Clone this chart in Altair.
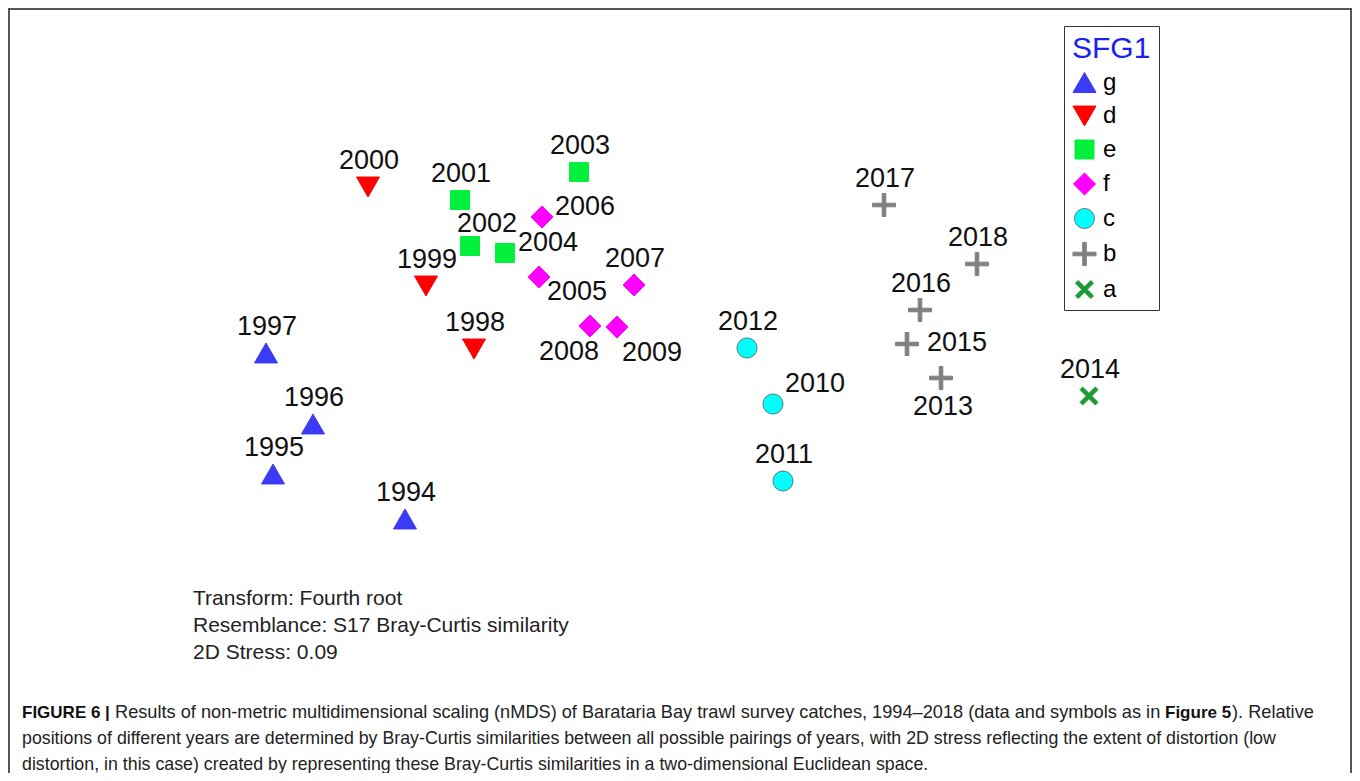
import altair as alt
import pandas as pd

# ---------------- data ----------------
years = list(range(1994, 2019))
groups = ["g", "g", "g", "g", "d", "d", "d", "e", "e", "e", "e", "f", "f", "f", "f", "f",
          "c", "c", "c", "b", "a", "b", "b", "b", "b"]
mds1 = [405, 273, 313, 266, 474, 426, 368, 460, 470, 579, 505, 539, 542, 634, 590, 617,
        773, 783, 747, 941, 1089, 907, 920, 884, 977]
mds2 = [519, 474, 424, 353, 349, 286, 187, 200, 246, 172, 253, 277, 217, 285, 326, 327,
        404, 481, 348, 378, 396, 344, 310, 205, 264]
label_side = ["N", "N", "N", "N", "N", "N", "N", "N", "NNE", "N", "ENE", "ESE", "ENE", "N", "SW", "SE",
              "NE", "N", "N", "S", "N", "E", "N", "N", "N"]

group_order = ["g", "d", "e", "f", "c", "b", "a"]
group_fill = ["#3b3bf6", "#ff0000", "#00f03c", "#ff00ff", "#00ffff", "#808080", "#1e9a34"]
group_stroke = ["#3b3bf6", "#ff0000", "#00f03c", "#ff00ff", "#557a7c", "#808080", "#1e9a34"]

notes = ["Transform: Fourth root",
         "Resemblance: S17 Bray-Curtis similarity",
         "2D Stress: 0.09"]

caption_segments = [
    (0, "FIGURE 6 |", True),
    (0, "Results of non-metric multidimensional scaling (nMDS) of Barataria Bay trawl survey catches, 1994\u20132018 (data and symbols as in", False),
    (0, "Figure 5", True),
    (0, "). Relative", False),
    (1, "positions of different years are determined by Bray-Curtis similarities between all possible pairings of years, with 2D stress reflecting the extent of distortion (low", False),
    (2, "distortion, in this case) created by representing these Bray-Curtis similarities in a two-dimensional Euclidean space.", False),
]

# ---------------- layout / styling ----------------
FONT = "Liberation Sans"
W, H = 1344, 765

# symbol paths (unit box, rendered with size 576 -> 12 px per unit)
a, w = 0.75, 0.22
x_path = (f"M{-a},{-a + w}L{-a + w},{-a}L0,{-w}L{a - w},{-a}L{a},{-a + w}L{w},0L{a},{a - w}"
          f"L{a - w},{a}L0,{w}L{-a + w},{a}L{-a},{a - w}L{-w},0Z")
t = 0.15
p = 0.96
plus_path = (f"M{-p},{-t}L{-t},{-t}L{-t},{-p}L{t},{-p}L{t},{-t}L{p},{-t}L{p},{t}L{t},{t}"
             f"L{t},{p}L{-t},{p}L{-t},{t}L{-p},{t}Z")
shape_paths = [
    "M0,-0.83L0.96,0.83L-0.96,0.83Z",          # g triangle up
    "M0,0.83L0.96,-0.83L-0.96,-0.83Z",         # d triangle down
    "M-0.79,-0.79L0.79,-0.79L0.79,0.79L-0.79,0.79Z",  # e square
    "M0,-0.92L0.92,0L0,0.92L-0.92,0Z",         # f diamond
    "M0.83,0A0.83,0.83 0 1,1 -0.83,0A0.83,0.83 0 1,1 0.83,0Z",  # c circle
    plus_path,                                 # b plus
    x_path,                                    # a cross
]

offsets = {"N": (1, -26), "NNE": (17, -22), "NE": (42, -20), "ENE": (43, -10),
           "E": (50, -1), "ESE": (38, 15), "SE": (35, 26), "S": (2, 29), "SW": (-21, 26)}

df = pd.DataFrame({"year": [str(y) for y in years], "group": groups, "x": mds1, "y": mds2,
                   "side": label_side})
df["lx"] = [x + offsets[s][0] for x, s in zip(df["x"], df["side"])]
df["ly"] = [y + offsets[s][1] for y, s in zip(df["y"], df["side"])]

x_scale = alt.Scale(domain=[8, 8 + W], nice=False, zero=False)
y_scale = alt.Scale(domain=[8, 8 + H], reverse=True, nice=False, zero=False)

base = alt.Chart(df)

points = base.mark_point(filled=True, size=576, opacity=1, strokeWidth=1).encode(
    x=alt.X("x:Q", scale=x_scale, axis=None),
    y=alt.Y("y:Q", scale=y_scale, axis=None),
    shape=alt.Shape("group:N", scale=alt.Scale(domain=group_order, range=shape_paths), title="SFG1"),
    fill=alt.Fill("group:N", scale=alt.Scale(domain=group_order, range=group_fill), title="SFG1"),
    stroke=alt.Stroke("group:N", scale=alt.Scale(domain=group_order, range=group_stroke), title="SFG1"),
)

labels = base.mark_text(font=FONT, fontSize=27, color="#111111", align="center", baseline="middle").encode(
    x=alt.X("lx:Q", scale=x_scale, axis=None),
    y=alt.Y("ly:Q", scale=y_scale, axis=None),
    text="year:N",
)

notes_df = pd.DataFrame({"text": notes, "row": list(range(len(notes)))})
notes_layer = alt.Chart(notes_df).transform_calculate(
    nx="193", ny="599 + 27 * datum.row"
).mark_text(font=FONT, fontSize=21, color="#222222", align="left", baseline="middle").encode(
    x=alt.X("nx:Q", scale=x_scale, axis=None),
    y=alt.Y("ny:Q", scale=y_scale, axis=None),
    text="text:N",
)

# caption layout (start x and font size of each segment)
seg_x = [22, 115, 1165, 1232, 22, 22]
seg_size = [17, 18.2, 17, 18.2, 17.8, 17.8]
cap_df = pd.DataFrame({
    "line": [s[0] for s in caption_segments],
    "text": [s[1] for s in caption_segments],
    "bold": [s[2] for s in caption_segments],
    "cx": seg_x,
    "fs": seg_size,
})
cap_df["cy"] = 713 + 26 * cap_df["line"]

cap_regular = alt.Chart(cap_df).transform_filter("!datum.bold").mark_text(
    font=FONT, color="#222222", align="left", baseline="middle"
).encode(
    x=alt.X("cx:Q", scale=x_scale, axis=None),
    y=alt.Y("cy:Q", scale=y_scale, axis=None),
    size=alt.Size("fs:Q", scale=None, legend=None),
    text="text:N",
)
cap_bold = alt.Chart(cap_df).transform_filter("datum.bold").mark_text(
    font=FONT, fontWeight="bold", color="#111111", align="left", baseline="middle"
).encode(
    x=alt.X("cx:Q", scale=x_scale, axis=None),
    y=alt.Y("cy:Q", scale=y_scale, axis=None),
    size=alt.Size("fs:Q", scale=None, legend=None),
    text="text:N",
)

border_col = "#555555"
left_rule = alt.Chart(df).mark_rule(color=border_col, strokeWidth=2).encode(
    x=alt.value(1), y=alt.value(0), y2=alt.value(H))
top_rule = alt.Chart(df).mark_rule(color=border_col, strokeWidth=2).encode(
    x=alt.value(0), x2=alt.value(W), y=alt.value(1))
right_rule = alt.Chart(df).mark_rule(color=border_col, strokeWidth=2).encode(
    x=alt.value(W - 1), y=alt.value(0), y2=alt.value(H))

chart = alt.layer(
    left_rule, top_rule, right_rule, points, labels, notes_layer, cap_regular, cap_bold
).properties(
    width=W, height=H, padding=0, autosize=alt.AutoSizeParams(type="none")
).configure_view(stroke=None).configure(background="white").configure_legend(
    orient="none", legendX=1056, legendY=18, padding=8,
    strokeColor="#333333", fillColor="white",
    titleFont=FONT, titleFontSize=30, titleFontWeight="normal", titleColor="#2020ee",
    titlePadding=6, labelFont=FONT, labelFontSize=24, labelColor="#000000",
    labelOffset=6, rowPadding=8.5, symbolSize=576, symbolStrokeWidth=1, symbolOpacity=1,
)

chart.save("out.html", embed_options={"renderer": "svg", "actions": False})
